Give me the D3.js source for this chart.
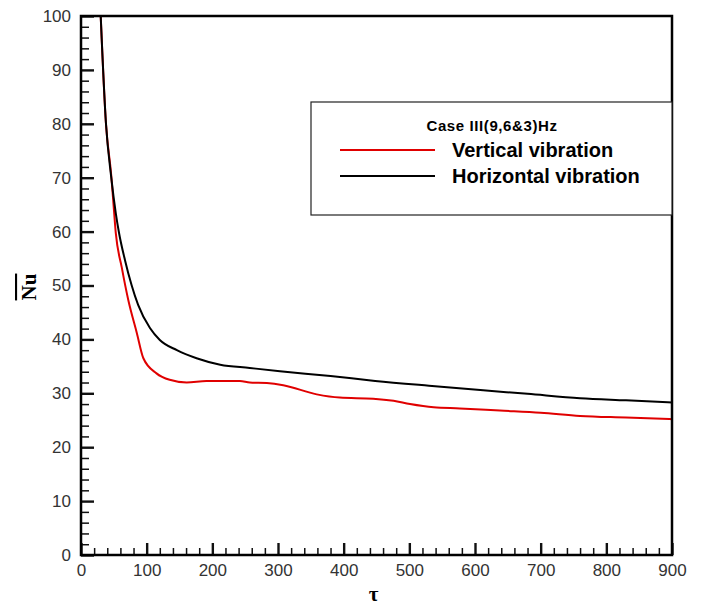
<!DOCTYPE html>
<html>
<head>
<meta charset="utf-8">
<script src="https://cdn.jsdelivr.net/npm/d3@7"></script>
<style>
  body { margin: 0; background: #fff; }
  svg { display: block; }
</style>
</head>
<body>
<div id="chart"></div>
<script>
// tau values and Nu readings for each case
const tauVertical = [30, 38, 46, 49, 53, 62, 72, 85, 95, 115, 135, 161, 191, 242, 257, 283, 308, 359, 394, 445, 476, 501, 537, 577, 638, 700, 760, 830, 900];
const nuVertical = [100, 80, 70.5, 65.9, 59.7, 53.4, 47.3, 41.2, 36.5, 33.7, 32.5, 32.0, 32.3, 32.3, 32.0, 31.9, 31.5, 29.8, 29.2, 29.0, 28.6, 28.0, 27.4, 27.2, 26.8, 26.4, 25.8, 25.5, 25.2];

const tauHorizontal = [30, 38, 46, 53, 58, 67, 77, 87, 105, 120, 146, 176, 212, 257, 303, 380, 448, 530, 608, 680, 760, 830, 900];
const nuHorizontal = [100, 80.1, 70.1, 63.4, 59.7, 54.7, 50.1, 46.4, 42.1, 39.9, 38.0, 36.5, 35.3, 34.7, 34.1, 33.2, 32.3, 31.4, 30.6, 29.9, 29.1, 28.7, 28.3];

const xMajor = [0, 100, 200, 300, 400, 500, 600, 700, 800, 900];
const yMajor = [0, 10, 20, 30, 40, 50, 60, 70, 80, 90, 100];

const width = 706;
const height = 611;
const margin = { left: 81, right: 34, top: 16, bottom: 56 };

const svg = d3.select('#chart')
  .append('svg')
  .attr('width', width)
  .attr('height', height);

const x = d3.scaleLinear()
  .domain([0, 900])
  .range([margin.left, width - margin.right]);

const y = d3.scaleLinear()
  .domain([0, 100])
  .range([height - margin.bottom, margin.top]);

const tickFont = '"Liberation Sans", Arial, sans-serif';

const xMinor = d3.range(0, 901, 20).filter(v => v % 100 !== 0);
const yMinor = d3.range(0, 101, 2).filter(v => v % 10 !== 0);

function styleTicks(g, w) {
  g.select('.domain').remove();
  g.selectAll('.tick line')
    .attr('stroke', '#111')
    .attr('stroke-width', w);
}

// minor ticks (inward, no labels)
svg.append('g')
  .attr('class', 'x-minor')
  .attr('transform', `translate(0,${y(0)})`)
  .call(d3.axisBottom(x).tickValues(xMinor).tickSize(-7).tickFormat(''))
  .call(g => styleTicks(g, 1.5));

svg.append('g')
  .attr('class', 'y-minor')
  .attr('transform', `translate(${x(0)},0)`)
  .call(d3.axisLeft(y).tickValues(yMinor).tickSize(-8).tickFormat(''))
  .call(g => styleTicks(g, 1.5));

// major ticks with labels
svg.append('g')
  .attr('class', 'x-major')
  .attr('transform', `translate(0,${y(0)})`)
  .call(d3.axisBottom(x).tickValues(xMajor).tickSize(-12).tickPadding(9))
  .call(g => styleTicks(g, 2.4))
  .call(g => g.selectAll('text')
    .attr('font-family', tickFont)
    .attr('font-size', 17)
    .attr('fill', '#333'));

svg.append('g')
  .attr('class', 'y-major')
  .attr('transform', `translate(${x(0)},0)`)
  .call(d3.axisLeft(y).tickValues(yMajor).tickSize(-13).tickPadding(10))
  .call(g => styleTicks(g, 2.4))
  .call(g => g.selectAll('text')
    .attr('font-family', tickFont)
    .attr('font-size', 17)
    .attr('fill', '#333'));

// curves
svg.append('clipPath').attr('id', 'clip')
  .append('rect')
  .attr('x', x(0)).attr('y', y(100))
  .attr('width', x(900) - x(0)).attr('height', y(0) - y(100));

const line = d3.line()
  .x(d => x(d[0]))
  .y(d => y(d[1]))
  .curve(d3.curveMonotoneX);

const plot = svg.append('g').attr('clip-path', 'url(#clip)');

plot.append('path')
  .datum(d3.zip(tauVertical, nuVertical))
  .attr('d', line)
  .attr('fill', 'none')
  .attr('stroke', '#e00000')
  .attr('stroke-width', 2);

plot.append('path')
  .datum(d3.zip(tauHorizontal, nuHorizontal))
  .attr('d', line)
  .attr('fill', 'none')
  .attr('stroke', '#000')
  .attr('stroke-width', 2);

// frame
svg.append('rect')
  .attr('x', x(0)).attr('y', y(100))
  .attr('width', x(900) - x(0)).attr('height', y(0) - y(100))
  .attr('fill', 'none')
  .attr('stroke', '#000')
  .attr('stroke-width', 2.5);

// axis titles
svg.append('text')
  .attr('x', x(450) - 3)
  .attr('y', 601)
  .attr('text-anchor', 'middle')
  .attr('font-family', '"Liberation Serif", "Times New Roman", serif')
  .attr('font-weight', 'bold')
  .attr('font-size', 21)
  .attr('fill', '#000')
  .text('τ');

svg.append('text')
  .attr('transform', 'translate(36,287) rotate(-90)')
  .attr('text-anchor', 'middle')
  .attr('font-family', '"Liberation Serif", "Times New Roman", serif')
  .attr('font-weight', 'bold')
  .attr('font-size', 21)
  .attr('text-decoration', 'overline')
  .attr('fill', '#000')
  .text('Nu');

// legend
const legend = svg.append('g');

legend.append('rect')
  .attr('x', 311).attr('y', 102)
  .attr('width', x(900) - 311).attr('height', 113)
  .attr('fill', '#fff')
  .attr('stroke', '#222')
  .attr('stroke-width', 1.2);

legend.append('text')
  .attr('x', 492).attr('y', 131)
  .attr('text-anchor', 'middle')
  .attr('font-family', tickFont)
  .attr('font-weight', 'bold')
  .attr('font-size', 15)
  .attr('letter-spacing', 0.6)
  .text('Case III(9,6&3)Hz');

const legendItems = [
  { label: 'Vertical vibration', color: '#e00000', y: 150 },
  { label: 'Horizontal vibration', color: '#000', y: 176 }
];

legendItems.forEach(item => {
  legend.append('line')
    .attr('x1', 340).attr('x2', 435)
    .attr('y1', item.y).attr('y2', item.y)
    .attr('stroke', item.color)
    .attr('stroke-width', 2);

  legend.append('text')
    .attr('x', 452).attr('y', item.y + 7)
    .attr('font-family', tickFont)
    .attr('font-weight', 'bold')
    .attr('font-size', 20)
    .text(item.label);
});
</script>
</body>
</html>
